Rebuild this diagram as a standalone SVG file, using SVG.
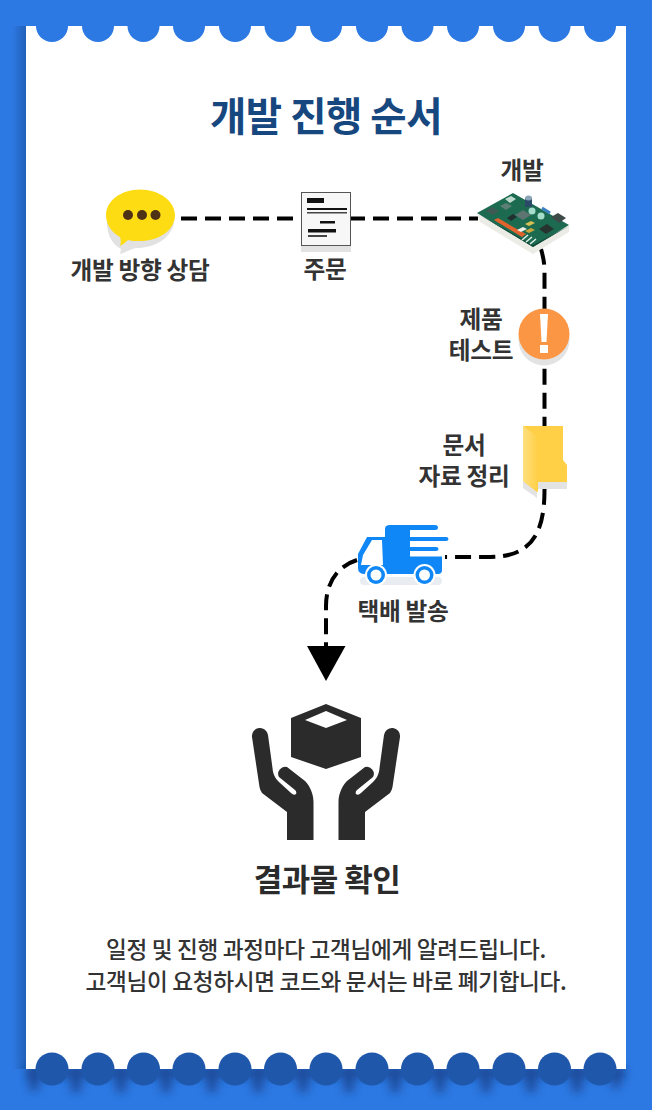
<svg xmlns="http://www.w3.org/2000/svg" width="652" height="1110" viewBox="0 0 652 1110">
<style>
text{font-family:"Noto Sans CJK KR","Noto Sans",sans-serif;text-anchor:middle;fill:#333}
.l{font-size:23.700px;font-weight:700;letter-spacing:-.3px}
.p{font-size:22.600px;font-weight:500;letter-spacing:-.3px}
.c{fill:none;stroke:#000;stroke-width:4;stroke-dasharray:16 8}
.sh{fill:#e2e2e2}
</style>
<defs>
<filter id="b" x="-20%" y="-50%" width="140%" height="200%"><feGaussianBlur stdDeviation="5"/></filter>
<filter id="b2" x="-5%" y="-100%" width="110%" height="300%"><feGaussianBlur stdDeviation="4"/></filter>
<linearGradient id="fo" x1="0" y1="0" x2="1" y2="0"><stop offset="0" stop-color="#ffe07e"/><stop offset="1" stop-color="#ffcf46"/></linearGradient>
<linearGradient id="ls" x1="0" y1="0" x2="1" y2="0"><stop offset="0" stop-color="#1f58ab" stop-opacity="0"/><stop offset="1" stop-color="#1f58ab" stop-opacity=".75"/></linearGradient>
<path id="hand" d="M252,737A8,8 0 0 1 268,735L272.500,768C273,774 275,778 279,782L291,793Q294,796 296,794Q297,792 295,790L279,777A7,7 0 0 1 287,767L305,781C310,786 313.500,794 313.500,802V840H287V812L262,793Q260,790 259.500,787Z"/>
</defs>
<rect id="bg" width="652" height="1110" fill="#2d79e3"/>
<rect id="side-shadow" x="12" y="26" width="14" height="1043" fill="url(#ls)"/>
<g id="shadow" fill="#1a4a96">
<rect x="26" y="1068" width="600" height="10" filter="url(#b2)" opacity=".85"/>
<g filter="url(#b)" opacity=".95">
<rect x="29" y="1068" width="10" height="22"/><rect x="71" y="1068" width="10" height="24"/><rect x="116" y="1068" width="10" height="24"/><rect x="161" y="1068" width="10" height="24"/><rect x="207" y="1068" width="10" height="24"/><rect x="253" y="1068" width="10" height="24"/><rect x="298" y="1068" width="10" height="24"/><rect x="344" y="1068" width="10" height="24"/><rect x="390" y="1068" width="10" height="24"/><rect x="435" y="1068" width="10" height="24"/><rect x="481" y="1068" width="10" height="24"/><rect x="526" y="1068" width="10" height="24"/><rect x="572" y="1068" width="10" height="24"/><rect x="612" y="1068" width="8" height="20"/>
</g>
</g>
<rect id="card" x="26" y="26" width="600" height="1043" fill="#fff"/>
<g id="scallops-top" fill="#2d79e3">
<circle cx="52" cy="26" r="16"/><circle cx="98" cy="26" r="16"/><circle cx="143.500" cy="26" r="16"/><circle cx="189" cy="26" r="16"/><circle cx="235" cy="26" r="16"/><circle cx="280.500" cy="26" r="16"/><circle cx="326" cy="26" r="16"/><circle cx="372" cy="26" r="16"/><circle cx="417.500" cy="26" r="16"/><circle cx="463" cy="26" r="16"/><circle cx="509" cy="26" r="16"/><circle cx="554.500" cy="26" r="16"/><circle cx="600" cy="26" r="16"/>
</g>
<g id="scallops-bottom" fill="#1f58ab">
<circle cx="52" cy="1069" r="16.500"/><circle cx="98" cy="1069" r="16.500"/><circle cx="143.500" cy="1069" r="16.500"/><circle cx="189" cy="1069" r="16.500"/><circle cx="235" cy="1069" r="16.500"/><circle cx="280.500" cy="1069" r="16.500"/><circle cx="326" cy="1069" r="16.500"/><circle cx="372" cy="1069" r="16.500"/><circle cx="417.500" cy="1069" r="16.500"/><circle cx="463" cy="1069" r="16.500"/><circle cx="509" cy="1069" r="16.500"/><circle cx="554.500" cy="1069" r="16.500"/><circle cx="600" cy="1069" r="16.500"/>
</g>
<text id="title" x="326" y="131" font-size="39.500" font-weight="700" style="fill:#17477f;letter-spacing:-.5px">개발 진행 순서</text>
<g id="connectors">
<path class="c" d="M181,218.500H478"/>
<path class="c" d="M541,249C543,256 544.500,262 544.500,272V490C544.500,535 530,557 490,557H445"/>
<path class="c" d="M357,560C338,566 326,582 326,606V650"/>
<path d="M307,646H345.500L326,681Z" fill="#000"/>
</g>
<g id="node-consult">
<path class="sh" d="M121,249C111,244 106,232 107,218C130,245 155,240 174,222C172,238 155,248 136,248C130,249 125,253 120,254Z"/>
<path d="M140,189.500C159,189.500 175,201 175,215C175,231 158,241 140,241C135,241 131,241 128,240C125,243 122,245 120,246C121,243 121,240 120,237C111,232 106,224 106,215C106,201 121,189.500 140,189.500Z" fill="#fddc13"/>
<g fill="#4d3216"><circle cx="128" cy="215" r="5"/><circle cx="142" cy="215" r="5"/><circle cx="155.500" cy="215" r="5"/></g>
<text class="l" x="140" y="279">개발 방향 상담</text>
</g>
<g id="node-order">
<rect class="sh" x="301" y="240" width="50" height="12"/>
<rect x="301.500" y="192.500" width="49" height="53" fill="#f7f7f7" stroke="#555" stroke-width="1"/>
<g fill="#111"><rect x="307" y="198" width="17" height="5"/><rect x="307" y="208" width="40" height="2"/><rect x="307" y="212" width="40" height="1.500" fill="#444"/><rect x="320" y="221" width="15" height="2.500"/><rect x="308" y="229" width="28" height="3.500"/><rect x="308" y="235" width="19" height="2" fill="#444"/></g>
<text class="l" x="325" y="278">주문</text>
</g>
<g id="node-dev">
<path d="M477,214L533,247L569,226L569,232L533,254L480,222Z" fill="#ecece6"/>
<path d="M477,213L513,193L569,225L533,247Z" fill="#1c6b50"/>
<path d="M478,214L533,247L569,226L533,245Z" fill="#124a38"/>
<path d="M494,220L498,218L515,228L526,234L522,237Z" fill="#e0622c"/>
<path d="M486,211L492,207L499,211L493,215Z" fill="#3d5a55"/>
<path d="M505,199L511,196L516,199L510,203Z" fill="#bfd8cc"/>
<path d="M500,206L506,203L512,206L506,210Z" fill="#5c7f75"/>
<path d="M507,218L513,214L517,217L511,221Z" fill="#21302e"/>
<path d="M515,215L523,210L531,215L523,220Z" fill="#5d7470"/>
<circle cx="532" cy="211" r="3.500" fill="#a6dccb"/><circle cx="541" cy="216" r="3.500" fill="#a6dccb"/>
<path d="M525,224l6,-3 4,2 -6,3Z" fill="#d8c050"/><path d="M525,231l6,-3 4,2 -6,3Z" fill="#c9a53b"/><path d="M517,230l6,-3 4,2 -6,3Z" fill="#eef0e8"/>
<path d="M539,229L547,224L554,229L546,234Z" fill="#26332f"/><path d="M551,217L558,213L566,218L559,223Z" fill="#3d4a48"/>
<path d="M525,198h7v9h-7z" fill="#2b4a68"/><ellipse cx="528.500" cy="198" rx="3.500" ry="2.500" fill="#8ba5b8"/>
<path d="M542,208L550,213" stroke="#3c7fc0" stroke-width="3" fill="none"/><path d="M522,240l6,-5M526,242l6,-5M530,244l6,-5" stroke="#e4f0ea" stroke-width="1.500" fill="none"/>
<text class="l" x="522" y="179">개발</text>
</g>
<g id="node-test">
<circle cx="544" cy="340" r="25.500" fill="#e3e3e3"/>
<circle cx="544" cy="334" r="25.500" fill="#fb9644"/>
<path d="M540,314H548L546.500,342H541.500Z" fill="#fff"/><rect x="540" y="345" width="8" height="8" fill="#fff"/>
<text class="l"><tspan x="481" y="328">제품</tspan><tspan x="481" y="359">테스트</tspan></text>
</g>
<g id="node-docs">
<path d="M523,480V488L537,498V489H567V482H523Z" fill="#e3e3e3"/>
<path d="M523,426H563V460L567,465V482H537V492L523,481Z" fill="#ffcf46"/>
<path d="M523,426L538,437V492L523,481Z" fill="url(#fo)"/>
<text class="l"><tspan x="464" y="454">문서</tspan><tspan x="464" y="485">자료 정리</tspan></text>
</g>
<g id="node-ship">
<rect x="360" y="577" width="82" height="8" rx="4" fill="#e9edf1"/>
<path d="M385,529Q385,525 390,525H435Q438,525 438,527.500Q438,530 435,530H410V537H446Q448.500,537 448.500,539Q448.500,541 446,541H410V547H436Q438.500,547 438.500,549Q438.500,551 436,551H410V556.500H442V570Q442,574 438,574H385Z" fill="#0f87f7"/>
<path d="M367,537H385V574H365Q358,574 358,568V554Z" fill="#0f87f7"/>
<path d="M372,540H382L383,565H361L363,555Z" fill="#fff"/>
<path d="M361,566H384V570H361Z" fill="#0f87f7"/>
<circle cx="376" cy="575" r="11" fill="#fff"/><circle cx="376" cy="575" r="9" fill="#0f87f7"/><circle cx="376" cy="575" r="5.500" fill="#fff"/>
<circle cx="424.500" cy="575" r="11" fill="#fff"/><circle cx="424.500" cy="575" r="9" fill="#0f87f7"/><circle cx="424.500" cy="575" r="5.500" fill="#fff"/>
<text class="l" x="403" y="620">택배 발송</text>
</g>
<g id="node-result" fill="#2b2b2b">
<path fill-rule="evenodd" d="M326,704L361,718V757L326,769L291,757V718ZM305,720L326,711L347,720L326,728Z"/>
<use href="#hand"/>
<use href="#hand" transform="translate(652) scale(-1,1)"/>
<text x="327" y="891" font-size="31" font-weight="700" style="letter-spacing:-.5px;fill:#2b2b2b">결과물 확인</text>
</g>
<g id="note">
<text class="p" x="326" y="958">일정 및 진행 과정마다 고객님에게 알려드립니다.</text>
<text class="p" x="326" y="990">고객님이 요청하시면 코드와 문서는 바로 폐기합니다.</text>
</g>
</svg>
